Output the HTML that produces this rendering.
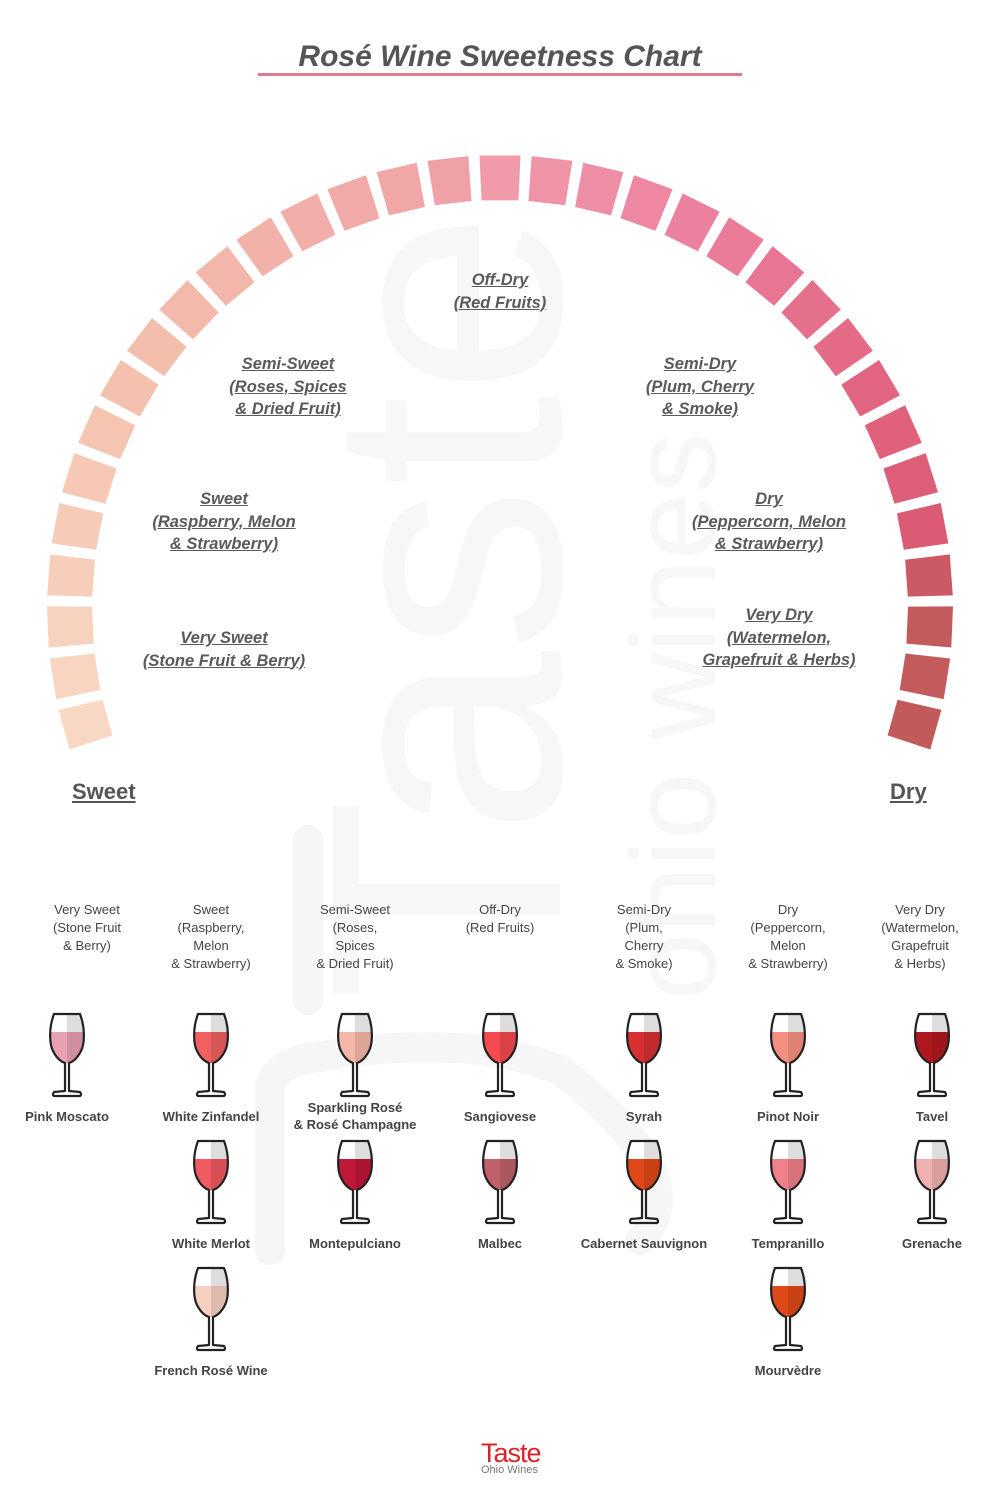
<!DOCTYPE html>
<html><head><meta charset="utf-8"><style>
body{margin:0;background:#fff}
#c{position:relative;width:1000px;height:1500px;overflow:hidden;font-family:"Liberation Sans",sans-serif;color:#555}
.t{position:absolute;text-align:center;white-space:nowrap}
.arcl{font-style:italic;font-weight:bold;text-decoration:underline;font-size:16.5px;line-height:22.5px;color:#5a5a5a}
.hd{font-size:13px;line-height:18px;color:#444;width:140px}
.nm{font-size:13px;line-height:17px;color:#444;font-weight:bold;width:160px}
</style></head><body><div id="c">
<svg id="s" width="1000" height="1500" style="position:absolute;left:0;top:0">
<g fill="none" stroke="#f6f6f6" stroke-width="30" stroke-linecap="round">
<path d="M308 1000 V840"/>
<path d="M270 1250 V1090 Q270 1070 300 1060 Q460 1030 560 1070 Q700 1180 640 1240" />
</g>
<g transform="translate(560,1000) rotate(-90)"><text x="0" y="0" font-size="330" font-family="Liberation Sans" fill="#f7f7f7">Taste</text></g>
<text x="0" y="0" transform="translate(715,1000) rotate(-90)" font-size="120" font-family="Liberation Sans" fill="#f7f7f7">ohio wines</text>
<text x="500" y="66" text-anchor="middle" font-size="30" font-weight="bold" font-style="italic" fill="#555" font-family="Liberation Sans">Rosé Wine Sweetness Chart</text>
<rect x="258" y="73" width="484" height="3" fill="#e07a90"/>
<g id="arc"></g><g id="gl"></g>
</svg>
<div class="t arcl" style="left:400px;width:200px;top:269px">Off-Dry<br>(Red Fruits)</div>
<div class="t arcl" style="left:188px;width:200px;top:353px">Semi-Sweet<br>(Roses, Spices<br>&amp; Dried Fruit)</div>
<div class="t arcl" style="left:124px;width:200px;top:488px">Sweet<br>(Raspberry, Melon<br>&amp; Strawberry)</div>
<div class="t arcl" style="left:124px;width:200px;top:627px">Very Sweet<br>(Stone Fruit &amp; Berry)</div>
<div class="t arcl" style="left:600px;width:200px;top:353px">Semi-Dry<br>(Plum, Cherry<br>&amp; Smoke)</div>
<div class="t arcl" style="left:669px;width:200px;top:488px">Dry<br>(Peppercorn, Melon<br>&amp; Strawberry)</div>
<div class="t arcl" style="left:679px;width:200px;top:604px">Very Dry<br>(Watermelon,<br>Grapefruit &amp; Herbs)</div>
<div class="t" style="left:72px;top:779px;font-size:22px;font-weight:bold;text-decoration:underline">Sweet</div>
<div class="t" style="left:890px;top:779px;font-size:22px;font-weight:bold;text-decoration:underline">Dry</div>
<div id="txt"></div>
<div class="t" style="left:481px;top:1438px;font-size:27px;color:#d8232a;letter-spacing:-1px">Taste</div>
<div class="t" style="left:481px;top:1464px;font-size:11px;color:#777">Ohio Wines</div>
</div>
<script>
var arc=document.getElementById('arc'),cx=500,cy=608,Ro=453,Ri=408;
var stops=[[0,[248,216,196]],[0.25,[244,190,172]],[0.45,[240,165,165]],[0.5,[240,154,170]],[0.62,[236,130,160]],[0.8,[224,98,124]],[0.9,[216,88,112]],[0.91,[196,92,94]],[1,[194,90,92]]];
function col(t){for(var i=1;i<stops.length;i++){if(t<=stops[i][0]){var a=stops[i-1],b=stops[i],f=(t-a[0])/(b[0]-a[0]||1);return 'rgb('+a[1].map(function(v,k){return Math.round(v+(b[1][k]-v)*f)}).join(',')+')';}}return 'rgb(194,90,92)';}
for(var k=-16;k<=16;k++){var a=(90-k*6.6)*Math.PI/180,h=2.6*Math.PI/180,pts=[];
[[Ro,a-h],[Ro,a+h],[Ri,a+h],[Ri,a-h]].forEach(function(p){pts.push((cx+p[0]*Math.cos(p[1])).toFixed(1)+','+(cy-p[0]*Math.sin(p[1])).toFixed(1))});
var pg=document.createElementNS('http://www.w3.org/2000/svg','polygon');pg.setAttribute('points',pts.join(' '));pg.setAttribute('fill',col((k+16)/32));arc.appendChild(pg);}
var xs=[67,211,355,500,644,788,932];
var hds=["Very Sweet<br>(Stone Fruit<br>&amp; Berry)","Sweet<br>(Raspberry,<br>Melon<br>&amp; Strawberry)","Semi-Sweet<br>(Roses,<br>Spices<br>&amp; Dried Fruit)","Off-Dry<br>(Red Fruits)","Semi-Dry<br>(Plum,<br>Cherry<br>&amp; Smoke)","Dry<br>(Peppercorn,<br>Melon<br>&amp; Strawberry)","Very Dry<br>(Watermelon,<br>Grapefruit<br>&amp; Herbs)"];
var hoff=[20,0,0,0,0,0,-12];
var h='';hds.forEach(function(t,i){h+='<div class="t hd" style="left:'+(xs[i]-70+hoff[i])+'px;top:901px">'+t+'</div>'});
var wines=[[0,0,'Pink Moscato','#e8a0b2'],[1,0,'White Zinfandel','#f06060'],[2,0,'Sparkling Rosé<br>&amp; Rosé Champagne','#f5b8a8'],[3,0,'Sangiovese','#f44a50'],[4,0,'Syrah','#d83030'],[5,0,'Pinot Noir','#f59080'],[6,0,'Tavel','#b01820'],
[1,1,'White Merlot','#f05a60'],[2,1,'Montepulciano','#c01838'],[3,1,'Malbec','#c06068'],[4,1,'Cabernet Sauvignon','#e04818'],[5,1,'Tempranillo','#f0808a'],[6,1,'Grenache','#f0b0b0'],
[1,2,'French Rosé Wine','#f8d0c0'],[5,2,'Mourvèdre','#e04a18']];
var g='';
wines.forEach(function(w){var x=xs[w[0]],y=1013+w[1]*127;
var ty=(w[2].indexOf('<br>')>0)?y+86:y+95;
h+='<div class="t nm" style="left:'+(x-80)+'px;top:'+ty+'px">'+w[2]+'</div>';
g+='<g transform="translate('+x+','+y+')">'+
'<path d="M-13,1 L13,1 C18,14 18,30 14,38 C10,46 5,49 2,50 L-2,50 C-5,49 -10,46 -14,38 C-18,30 -18,14 -13,1Z" fill="#fff"/>'+
'<path d="M0,1 L13,1 C18,14 18,30 14,38 C10,46 5,49 2,50 L0,50Z" fill="#ddd"/>'+
'<path d="M-16.5,19 L16.5,19 C17,28 16,33 14,38 C10,46 5,49 2,50 L-2,50 C-5,49 -10,46 -14,38 C-16,33 -17,28 -16.5,19Z" fill="'+w[3]+'"/>'+
'<path d="M0,19 L16.5,19 C17,28 16,33 14,38 C10,46 5,49 2,50 L0,50Z" fill="#000" opacity="0.1"/>'+
'<path d="M-13,1 L13,1 C18,14 18,30 14,38 C10,46 5,49 2,50 L2,78 L13,79 Q15,82 13,83 L-13,83 Q-15,82 -13,79 L-2,78 L-2,50 C-5,49 -10,46 -14,38 C-18,30 -18,14 -13,1Z" fill="none" stroke="#222" stroke-width="2.2" stroke-linejoin="round"/></g>';});
document.getElementById('gl').innerHTML=g;
document.getElementById('txt').innerHTML=h;
</script>
</body></html>
